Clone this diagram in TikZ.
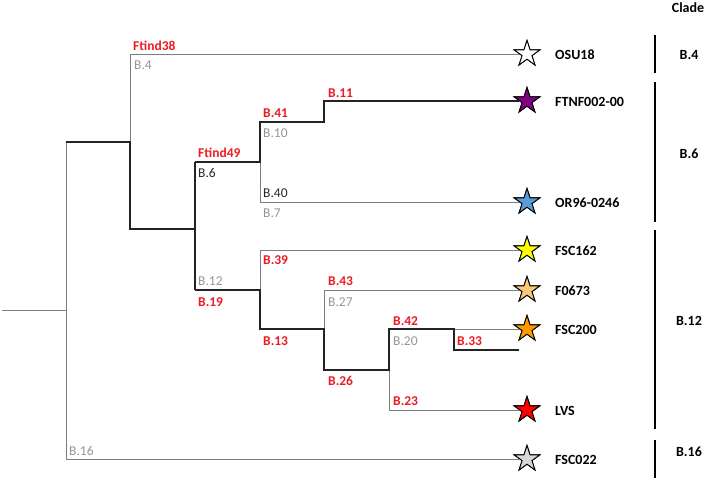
\documentclass[tikz,border=0pt]{standalone}
\usepackage{fontspec}
\setmainfont{Carlito}
\usetikzlibrary{shapes.geometric}
\definecolor{lblred}{RGB}{237,28,36}
\definecolor{lblgray}{RGB}{150,150,150}
\definecolor{lbldark}{RGB}{40,40,40}
\definecolor{thinln}{RGB}{125,125,125}
\definecolor{thickln}{RGB}{35,35,35}
\definecolor{cpurple}{RGB}{128,0,128}
\definecolor{cblue}{RGB}{91,155,213}
\definecolor{cyellow}{RGB}{255,255,0}
\definecolor{ctan}{RGB}{250,200,120}
\definecolor{corange}{RGB}{255,153,0}
\definecolor{cred}{RGB}{255,0,0}
\definecolor{cgray}{RGB}{215,215,215}
\begin{document}
\begin{tikzpicture}[x=1pt,y=-1pt,
  thinbr/.style={draw=thinln, line width=0.9pt},
  thickbr/.style={draw=thickln, line width=1.8pt},
  tipstar/.style={star, star points=5, star point ratio=2.618, minimum size=27pt, inner sep=0pt, draw=black, line width=0.9pt},
  lab/.style={inner sep=0pt, anchor=base west, font=\fontsize{13.5}{15}\selectfont},
  redlbl/.style={lab, text=lblred, font=\fontsize{13.5}{15}\selectfont\bfseries},
  graylbl/.style={lab, text=lblgray},
  darklbl/.style={lab, text=lbldark},
  namelbl/.style={inner sep=0pt, anchor=base west, font=\fontsize{14}{16}\selectfont\bfseries},
  cladelbl/.style={inner sep=0pt, anchor=base, font=\fontsize{14}{16}\selectfont\bfseries},
  cladebar/.style={draw=black, line width=1.5pt}]
\useasboundingbox (0,0) rectangle (708,482);
\fill[white] (0,0) rectangle (708,482);

% junction coordinates
\coordinate (root0) at (2,310);
\coordinate (r) at (66,310);
\coordinate (rT) at (66,142);
\coordinate (rB) at (66,459);
\coordinate (a) at (130,142);
\coordinate (aT) at (130,54);
\coordinate (aB) at (130,229);
\coordinate (b) at (195,229);
\coordinate (bT) at (195,162);
\coordinate (bB) at (195,290);
\coordinate (c) at (260,162);
\coordinate (cT) at (260,122);
\coordinate (cB) at (260,202);
\coordinate (d) at (324,122);
\coordinate (dT) at (324,101);
\coordinate (e) at (260,290);
\coordinate (eT) at (260,250);
\coordinate (eB) at (260,329);
\coordinate (f) at (324,329);
\coordinate (fT) at (324,290);
\coordinate (fB) at (324,370);
\coordinate (g) at (389,370);
\coordinate (gT) at (389,329);
\coordinate (gB) at (389,410);
\coordinate (h) at (454,329);
\coordinate (hB) at (454,350);
\coordinate (hEnd) at (519,350);

% tip stars (placed first for anchors)
\node[tipstar, fill=white]   (sOSU)  at (527,54)  {};
\node[tipstar, fill=cpurple] (sFTNF) at (527,101) {};
\node[tipstar, fill=cblue]   (sOR)   at (527,202) {};
\node[tipstar, fill=cyellow] (sF162) at (527,250) {};
\node[tipstar, fill=ctan]    (sF673) at (527,290) {};
\node[tipstar, fill=corange] (sF200) at (527,329) {};
\node[tipstar, fill=cred]    (sLVS)  at (527,410) {};
\node[tipstar, fill=cgray]   (sF022) at (527,459) {};

% thin branches
\begin{scope}[on background layer/.try]
\end{scope}
\draw[thinbr] (root0) -- (r);
\draw[thinbr] (rT) -- (rB);
\draw[thinbr] (a) -- (aT) -- (sOSU.west);
\draw[thinbr] (c) -- (cB) -- (sOR.west);
\draw[thinbr] (e) -- (eT) -- (sF162.west);
\draw[thinbr] (f) -- (fT) -- (sF673.west);
\draw[thinbr] (h) -- (sF200.west);
\draw[thinbr] (g) -- (gB) -- (sLVS.west);
\draw[thinbr] (rB) -- (sF022.west);

% thick branches
\draw[thickbr] (rT) -- (a) -- (aB) -- (b);
\draw[thickbr] (bT) -- (bB);
\draw[thickbr] (bT) -- (c) -- (cT) -- (d) -- (dT) -- (sFTNF.west);
\draw[thickbr] (bB) -- (e) -- (eB) -- (f) -- (fB) -- (g) -- (gT) -- (h) -- (hB) -- (hEnd);

% redraw stars on top of line ends
\node[tipstar, fill=white]   at (sOSU)  {};
\node[tipstar, fill=cpurple] at (sFTNF) {};
\node[tipstar, fill=cblue]   at (sOR)   {};
\node[tipstar, fill=cyellow] at (sF162) {};
\node[tipstar, fill=ctan]    at (sF673) {};
\node[tipstar, fill=corange] at (sF200) {};
\node[tipstar, fill=cred]    at (sLVS)  {};
\node[tipstar, fill=cgray]   at (sF022) {};

% branch labels
\node[redlbl]  (lFt38) at (133,50)  {Ftind38};
\node[graylbl] (lB4)   at (134,69)  {B.4};
\node[redlbl]  (lB41)  at (263,117) {B.41};
\node[graylbl] (lB10)  at (263,137) {B.10};
\node[redlbl]  (lB11)  at (328,97)  {B.11};
\node[redlbl]  (lFt49) at (198,157) {Ftind49};
\node[darklbl] (lB6)   at (198,177) {B.6};
\node[darklbl] (lB40)  at (263,197) {B.40};
\node[graylbl] (lB7)   at (263,217) {B.7};
\node[redlbl]  (lB39)  at (263,264) {B.39};
\node[graylbl] (lB12)  at (198,285) {B.12};
\node[redlbl]  (lB19)  at (198,306) {B.19};
\node[redlbl]  (lB13)  at (263,345) {B.13};
\node[redlbl]  (lB43)  at (328,285) {B.43};
\node[graylbl] (lB27)  at (328,306) {B.27};
\node[redlbl]  (lB26)  at (328,385) {B.26};
\node[redlbl]  (lB42)  at (393,325) {B.42};
\node[graylbl] (lB20)  at (393,345) {B.20};
\node[redlbl]  (lB33)  at (457,345) {B.33};
\node[redlbl]  (lB23)  at (393,405) {B.23};
\node[graylbl] (lB16)  at (69,455)  {B.16};

% strain names
\node[namelbl] (nOSU)  at (555,59)  {OSU18};
\node[namelbl] (nFTNF) at (555,106) {FTNF002-00};
\node[namelbl] (nOR)   at (555,207) {OR96-0246};
\node[namelbl] (nF162) at (555,255) {FSC162};
\node[namelbl] (nF673) at (555,295) {F0673};
\node[namelbl] (nF200) at (555,334) {FSC200};
\node[namelbl] (nLVS)  at (555,415) {LVS};
\node[namelbl] (nF022) at (555,464) {FSC022};

% clade column
\node[cladelbl] (cHead) at (688,12) {Clade};
\draw[cladebar] (655,35) -- (655,73);
\draw[cladebar] (655,82) -- (655,222);
\draw[cladebar] (655,230) -- (655,429);
\draw[cladebar] (655,440) -- (655,478);
\node[cladelbl] (cB4)  at (689,59)  {B.4};
\node[cladelbl] (cB6)  at (689,158) {B.6};
\node[cladelbl] (cB12) at (689,325) {B.12};
\node[cladelbl] (cB16) at (689,456) {B.16};
\end{tikzpicture}
\end{document}
